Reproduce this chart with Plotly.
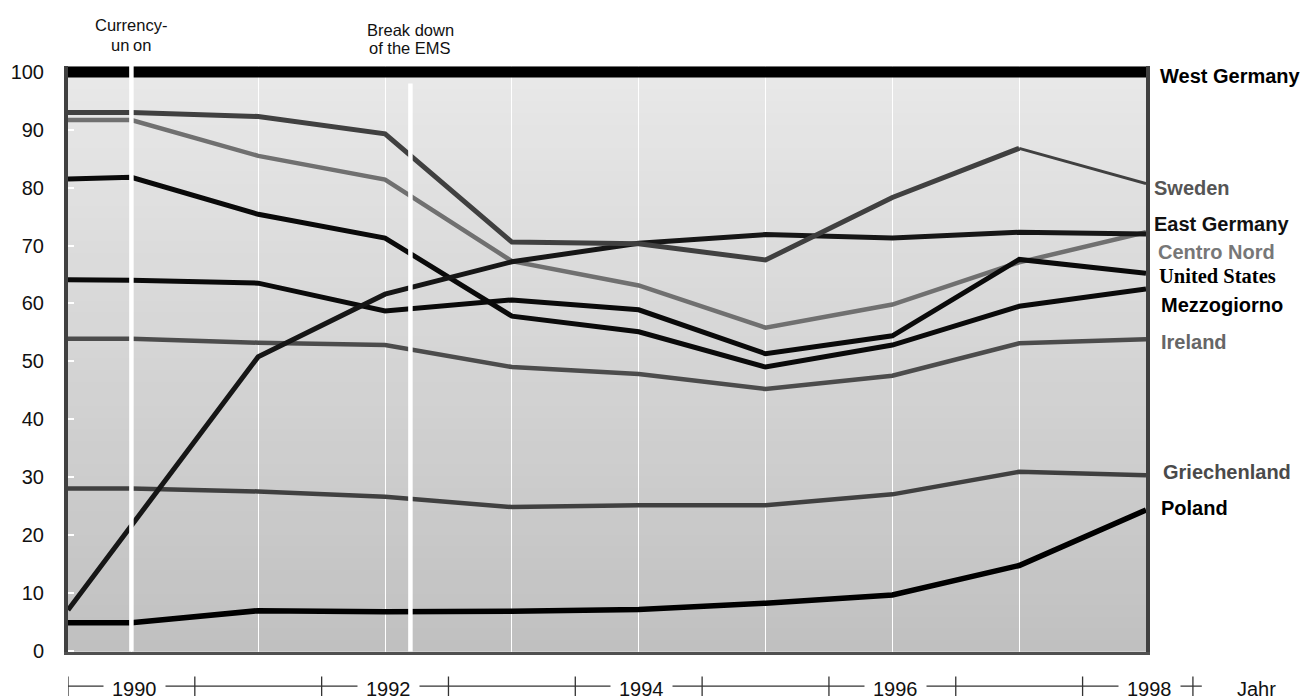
import plotly.graph_objects as go

# ---------------- data ----------------
years = [1989.5, 1990, 1991, 1992, 1993, 1994, 1995, 1996, 1997, 1998]

west_germany = [100, 100, 100, 100, 100, 100, 100, 100, 100, 100]
sweden = [93.0, 93.0, 92.3, 89.3, 70.6, 70.3, 67.5, 78.3, 86.8, 80.7]
centro_nord = [91.7, 91.7, 85.5, 81.4, 67.3, 63.1, 55.8, 59.8, 67.1, 72.3]
east_germany = [7.0, 21.5, 50.8, 61.6, 67.2, 70.4, 71.9, 71.3, 72.3, 72.0]
united_states = [64.1, 64.0, 63.5, 58.7, 60.6, 58.9, 51.3, 54.4, 67.6, 65.2]
mezzogiorno = [81.5, 81.8, 75.4, 71.3, 57.8, 55.1, 49.0, 52.8, 59.5, 62.5]
ireland = [53.9, 53.9, 53.2, 52.8, 49.0, 47.8, 45.2, 47.5, 53.1, 53.8]
griechenland = [28.0, 28.0, 27.5, 26.6, 24.8, 25.1, 25.1, 27.0, 30.9, 30.3]
poland = [4.8, 4.8, 6.9, 6.7, 6.8, 7.1, 8.2, 9.6, 14.7, 24.3]

y_ticks = [0, 10, 20, 30, 40, 50, 60, 70, 80, 90, 100]
year_labels = [1990, 1992, 1994, 1996, 1998]
time_axis_ticks = [1989.5, 1990.5, 1991.5, 1992.5, 1993.5, 1994.5, 1995.5, 1996.5, 1997.5, 1998.37]
time_axis_extent = [1989.5, 1998.44]

event_years = [1990, 1992.2]
event_tops = [101.03, 98.0]
event_lines1 = ["Currency-", "Break down"]
event_lines2 = ["un<span style='color:white'>i</span>on", "of the EMS"]

# right-hand labels
label_names = ["West Germany", "Sweden", "East Germany", "Centro Nord", "United States",
               "Mezzogiorno", "Ireland", "Griechenland", "Poland"]
label_y = [99.3, 80.0, 73.8, 68.8, 64.7, 59.7, 53.3, 30.9, 24.7]
label_dx = [12, 6, 6, 10, 11, 13, 13, 15, 13]
label_colors = ["#000000", "#555555", "#111111", "#777777", "#000000",
                "#000000", "#666666", "#4a4a4a", "#000000"]
label_fonts = ["Liberation Sans", "Liberation Sans", "Liberation Sans", "Liberation Sans",
               "Liberation Serif", "Liberation Sans", "Liberation Sans", "Liberation Sans",
               "Liberation Sans"]

# ---------------- figure ----------------
SANS = "Liberation Sans, Arial, sans-serif"
W, H = 1306, 708
ML, MT = 68, 66
plot_right_px = 1146
plot_bottom_px = 661
paper_w = W - ML
paper_h = H - MT
x_dom_end = (plot_right_px - ML) / paper_w
y_dom_start = (H - plot_bottom_px) / paper_h
x_range = [1989.5, 1998]
px_per_year = (plot_right_px - ML) / (x_range[1] - x_range[0])
x2_range = [x_range[0], x_range[0] + paper_w / px_per_year]

fig = go.Figure()

series = [
    ("Ireland", ireland, "#4c4c4c", 4.5),
    ("Griechenland", griechenland, "#404040", 4.5),
    ("Centro Nord", centro_nord, "#707070", 4.5),
    ("Mezzogiorno", mezzogiorno, "#0a0a0a", 5),
    ("United States", united_states, "#0a0a0a", 5),
    ("East Germany", east_germany, "#161616", 5),
    ("Poland", poland, "#000000", 5.5),
]
for name, vals, col, w in series:
    fig.add_trace(go.Scatter(x=years, y=vals, mode="lines", name=name,
                             line=dict(color=col, width=w), xaxis="x", yaxis="y"))

# Sweden: thinner final segment
fig.add_trace(go.Scatter(x=years[:-1], y=sweden[:-1], mode="lines", name="Sweden",
                         line=dict(color="#404040", width=5)))
fig.add_trace(go.Scatter(x=years[-2:], y=sweden[-2:], mode="lines", name="Sweden",
                         line=dict(color="#404040", width=3), showlegend=False))

fig.add_trace(go.Scatter(x=years, y=west_germany, mode="lines", name="West Germany",
                         line=dict(color="#000000", width=11)))

# time axis (bottom) in its own strip
fig.add_trace(go.Scatter(x=time_axis_extent, y=[0, 0], mode="lines",
                         line=dict(color="#333333", width=1.2),
                         xaxis="x2", yaxis="y2", hoverinfo="skip"))
fig.add_trace(go.Scatter(x=time_axis_ticks, y=[0] * len(time_axis_ticks), mode="markers",
                         marker=dict(symbol="line-ns", size=14,
                                     line=dict(color="#333333", width=1.3)),
                         xaxis="x2", yaxis="y2", hoverinfo="skip"))

shapes = []
# gradient background (bands overlap to avoid seams)
n = 50
for i in range(n):
    v = int(round(192 + (233 - 192) * (i + 0.5) / n))
    shapes.append(dict(type="rect", xref="x domain", yref="y domain",
                       x0=0, x1=1, y0=i / n, y1=min(1.0, (i + 1.6) / n),
                       fillcolor=f"rgb({v},{v},{v})", line=dict(width=0), layer="below"))
# event lines
for ex, top in zip(event_years, event_tops):
    shapes.append(dict(type="line", xref="x", yref="y", x0=ex, x1=ex, y0=-0.2, y1=top,
                       line=dict(color="white", width=4.5), layer="above"))

annotations = []
for name, ly, dx, col, fam in zip(label_names, label_y, label_dx, label_colors, label_fonts):
    annotations.append(dict(x=x_range[1], y=ly, xref="x", yref="y", text=f"<b>{name}</b>",
                            showarrow=False, xanchor="left", yanchor="middle", xshift=dx,
                            font=dict(family=fam, size=20 if fam.endswith("Sans") else 20.5,
                                      color=col)))
for ex, t1, t2, s1, s2 in zip(event_years, event_lines1, event_lines2, [41, 36], [21, 18]):
    annotations.append(dict(x=ex, y=1, xref="x", yref="paper", text=t1, showarrow=False,
                            xanchor="center", yanchor="middle", yshift=s1,
                            font=dict(family=SANS, size=16.5, color="#111111")))
    annotations.append(dict(x=ex, y=1, xref="x", yref="paper", text=t2, showarrow=False,
                            xanchor="center", yanchor="middle", yshift=s2,
                            font=dict(family=SANS, size=16.5, color="#111111")))
for yr in year_labels:
    annotations.append(dict(x=yr, y=0, xref="x2", yref="y2", text=str(yr), showarrow=False,
                            xanchor="center", yanchor="middle", xshift=3, yshift=-3,
                            bgcolor="white", borderpad=8,
                            font=dict(family=SANS, size=20, color="#111111")))
annotations.append(dict(x=1998.7, y=0, xref="x2", yref="y2", text="Jahr", showarrow=False,
                        xanchor="left", yanchor="middle", yshift=-3,
                        font=dict(family=SANS, size=20, color="#111111")))

fig.update_layout(
    autosize=False,
    width=W, height=H,
    margin=dict(l=ML, r=0, t=MT, b=0),
    paper_bgcolor="white", plot_bgcolor="white",
    showlegend=False,
    font=dict(family=SANS, size=20, color="#111111"),
    xaxis=dict(domain=[0, x_dom_end], range=x_range, tickvals=list(range(1990, 1999)),
               showgrid=True, gridcolor="white", gridwidth=1, showticklabels=False,
               ticks="", zeroline=False, showline=True, linecolor="#505050", linewidth=3,
               anchor="y"),
    yaxis=dict(domain=[y_dom_start, 1], range=[-0.2, 101.03], tickvals=y_ticks,
               showgrid=False, zeroline=False, showline=True, linecolor="#404040",
               linewidth=4, mirror=True, ticks="inside", tickcolor="white", ticklen=6,
               tickwidth=2, ticklabelstandoff=16, layer="below traces",
               tickfont=dict(family=SANS, size=20, color="#111111"),
               anchor="x"),
    xaxis2=dict(domain=[0, 1], range=x2_range, visible=False, anchor="y2"),
    yaxis2=dict(domain=[0, y_dom_start], range=[-12, 35], visible=False, anchor="x2"),
    shapes=shapes,
    annotations=annotations,
)

fig.write_html("out.html",
               config={"displayModeBar": False, "responsive": False},
               post_script="document.body.style.margin='0';document.body.style.overflow='hidden';")
